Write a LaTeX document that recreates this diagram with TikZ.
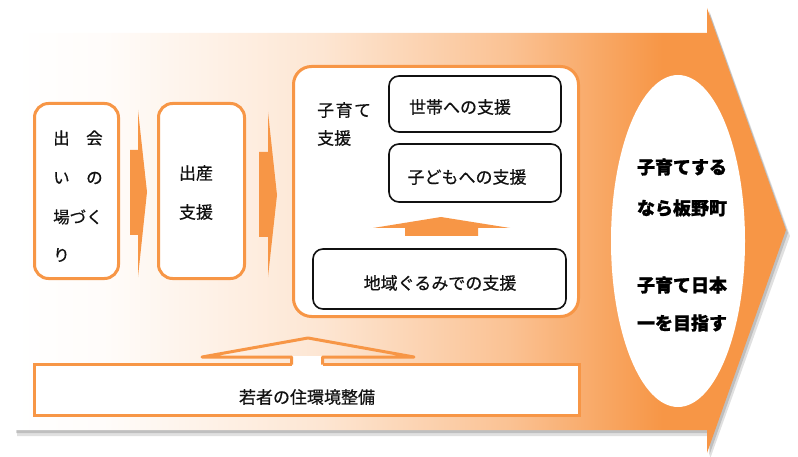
\documentclass[tikz,border=0pt]{standalone}
\usepackage{fontspec}
\usetikzlibrary{shapes.geometric}
\newfontfamily\cjk[FakeBold=0.6]{Noto Sans CJK JP}
\newfontfamily\cjkb[BoldFeatures={FakeBold=1.2}]{Noto Sans CJK JP}
\definecolor{org}{HTML}{F79646}
\definecolor{ink}{HTML}{111111}
\pgfdeclarehorizontalshading{bgshade}{100bp}{color(0bp)=(white); color(25bp)=(white); color(31bp)=(white!97!org); color(45bp)=(white!76!org); color(57bp)=(white!42!org); color(67bp)=(org); color(100bp)=(org)}
\tikzset{
  obox/.style={draw=org, line width=3pt, fill=white, rounded corners=14pt, inner sep=0pt},
  kbox/.style={draw=ink, line width=1.6pt, fill=white, rounded corners=10pt, inner sep=0pt},
  txt/.style={font=\cjk\fontsize{17}{20}\selectfont, text=ink, inner sep=0pt},
  btxt/.style={font=\cjkb\bfseries\fontsize{18}{21}\selectfont, text=black, inner sep=0pt},
}
\begin{document}
\begin{tikzpicture}[x=1pt,y=-1pt]
\useasboundingbox (0,0) rectangle (798,457);
% big arrow shadow
\fill[black, opacity=.12] (17,38) -- (710,38) -- (710,13) -- (790,236) -- (710,459) -- (710,436) -- (17,436) -- cycle;
\fill[black, opacity=.15] (16,36) -- (709,36) -- (709,11) -- (788,233) -- (709,456) -- (709,433) -- (16,433) -- cycle;
% big arrow
\shade[shading=bgshade] (14,33) -- (707,33) -- (707,8) -- (786,230) -- (707,453) -- (707,430) -- (14,430) -- cycle;
% ellipse
\node[ellipse, fill=white, minimum width=134pt, minimum height=332pt, inner sep=0pt] (goal) at (678,241) {};
\node[btxt] (g1) at (682,167) {子育てする};
\node[btxt] (g2) at (682,208) {なら板野町};
\node[btxt] (g3) at (682,285) {子育て日本};
\node[btxt] (g4) at (682,323) {一を目指す};
% box 1
\node[obox, minimum width=84pt, minimum height=175pt] (b1) at (76.5,191) {};
\node[txt, anchor=west, font=\cjk\fontsize{16.5}{20}\selectfont] (b1a) at (53,138) {出　会};
\node[txt, anchor=west, font=\cjk\fontsize{16.5}{20}\selectfont] (b1b) at (53,178) {い　の};
\node[txt, anchor=west, font=\cjk\fontsize{16.5}{20}\selectfont] (b1c) at (53,217) {場づく};
\node[txt, anchor=west, font=\cjk\fontsize{16.5}{20}\selectfont] (b1d) at (53,255) {り};
% small arrow 1
\fill[org] (130,150) -- (138,150) -- (138,110) -- (147,192) -- (138,277) -- (138,235) -- (130,235) -- cycle;
% box 2
\node[obox, minimum width=86pt, minimum height=175pt] (b2) at (201.5,191) {};
\node[txt] (b2a) at (196,173) {出産};
\node[txt] (b2b) at (196,212) {支援};
% small arrow 2
\fill[org] (259,152) -- (268,152) -- (268,112) -- (277,195) -- (268,277) -- (268,237) -- (259,237) -- cycle;
% box 3
\node[obox, rounded corners=18pt, minimum width=285pt, minimum height=250pt] (b3) at (436,191.5) {};
\node[txt, anchor=west] (b3a) at (317,110) {子\kern1.5pt 育\kern1.5pt て};
\node[txt, anchor=west] (b3b) at (317,138) {支援};
\node[kbox, minimum width=172pt, minimum height=56pt] (s1) at (475,104) {};
\node[txt] (s1t) at (460,107) {世帯への支援};
\node[kbox, minimum width=172pt, minimum height=58pt] (s2) at (475,173) {};
\node[txt] (s2t) at (467,177) {子どもへの支援};
\fill[org] (405,236) -- (405,228) -- (373,228) -- (441,217) -- (510,228) -- (478,228) -- (478,236) -- cycle;
\node[kbox, minimum width=253pt, minimum height=60pt] (s3) at (439.5,279) {};
\node[txt] (s3t) at (440,283) {地域ぐるみでの支援};
% bottom box
\node[draw=org, line width=3pt, fill=white, inner sep=0pt, minimum width=545pt, minimum height=51pt] (b4) at (307,390) {};
\fill[white] (291.5,356) rectangle (322.5,366);
\draw[org, line width=3pt, line join=round] (291.5,364.5) -- (291.5,357) -- (202,357) -- (308,338) -- (414,357) -- (322.5,357) -- (322.5,364.5);
\node[txt] (b4t) at (307,397) {若者の住環境整備};
\end{tikzpicture}
\end{document}
